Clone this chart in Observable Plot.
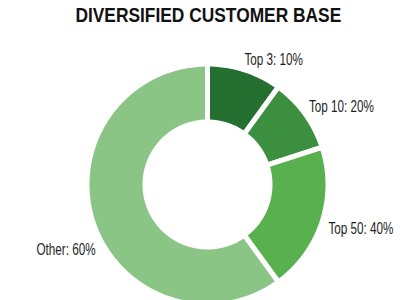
<!DOCTYPE html>
<html><head><meta charset="utf-8">
<script src="https://cdn.jsdelivr.net/npm/d3@7"></script>
<script src="https://cdn.jsdelivr.net/npm/@observablehq/plot@0.6"></script>
<style>
body{margin:0;background:#fff;overflow:hidden;}
#title{height:30px;line-height:30px;font-family:"Liberation Sans",Arial,sans-serif;font-weight:bold;font-size:19.5px;text-align:center;color:#111;white-space:nowrap;}
#title span{display:inline-block;transform:scaleX(0.89);}
</style></head><body>
<div id="title"><span>DIVERSIFIED CUSTOMER BASE</span></div>
<div id="chart"></div>
<script>
const categories = ["Top 3", "Top 10", "Top 50", "Other"];
const sliceShares = [10, 10, 20, 60];
const labelPercents = [10, 20, 40, 60];
const colors = ["#256f31", "#3b8f3f", "#58b14e", "#8bc586"];

// layout (not data): chart geometry and label nudges in px
const W = 417, H = 270, cx = 207, cy = 154;
const gap = 5;
const rOuter = 118 + gap / 2, rInner = 65 - gap / 2;
const labelNudge = {"Top 3": [-1, 3], "Top 10": [2, 0], "Top 50": [4, 0], "Other": [5, -21]};

const pie = d3.pie().sort(null).value(d => d)(sliceShares);

const pts = [];
const labels = [];
pie.forEach((p, i) => {
  const name = categories[i];
  const ring = [];
  const n = Math.max(8, Math.ceil((p.endAngle - p.startAngle) / (Math.PI / 180)));
  for (let k = 0; k <= n; k++) {
    const a = p.startAngle + (p.endAngle - p.startAngle) * k / n;
    ring.push([rOuter * Math.sin(a), rOuter * Math.cos(a)]);
  }
  for (let k = n; k >= 0; k--) {
    const a = p.startAngle + (p.endAngle - p.startAngle) * k / n;
    ring.push([rInner * Math.sin(a), rInner * Math.cos(a)]);
  }
  ring.push(ring[0], ring[1]);
  ring.forEach(([x, y]) => pts.push({name, x, y}));
  const mid = (p.startAngle + p.endAngle) / 2;
  const R = 123;
  const [nx, ny] = labelNudge[name];
  labels.push({
    name,
    text: `${name}: ${labelPercents[i]}%`,
    x: R * Math.sin(mid) + nx,
    y: R * Math.cos(mid) + ny,
    right: Math.sin(mid) >= 0,
    upper: Math.cos(mid) > 0
  });
});

const textOpts = {x: "x", y: "y", text: "text", fontSize: 16, fontFamily: "'Liberation Sans', Arial, sans-serif", fill: "#1e1e1e", className: "lbl"};
const chart = Plot.plot({
  width: W, height: H, margin: 0,
  x: {domain: [-cx, W - cx], axis: null},
  y: {domain: [-(H - cy), cy], axis: null},
  color: {domain: categories, range: colors},
  marks: [
    Plot.line(pts, {x: "x", y: "y", z: "name", fill: "name", stroke: "white", strokeWidth: gap, strokeLinejoin: "miter", strokeMiterlimit: 10}),
    Plot.text(labels.filter(d => d.right && d.upper), {...textOpts, textAnchor: "start", lineAnchor: "bottom"}),
    Plot.text(labels.filter(d => d.right && !d.upper), {...textOpts, textAnchor: "start", lineAnchor: "top"}),
    Plot.text(labels.filter(d => !d.right && d.upper), {...textOpts, textAnchor: "end", lineAnchor: "bottom"}),
    Plot.text(labels.filter(d => !d.right && !d.upper), {...textOpts, textAnchor: "end", lineAnchor: "top"})
  ]
});
document.getElementById("chart").appendChild(chart);
// condense label glyphs to mimic the narrow typeface of the original
chart.querySelectorAll("g.lbl text, .lbl text").forEach(t => {
  const len = t.getComputedTextLength();
  t.setAttribute("textLength", (len * 0.73).toFixed(1));
  t.setAttribute("lengthAdjust", "spacingAndGlyphs");
});
</script>
</body></html>
